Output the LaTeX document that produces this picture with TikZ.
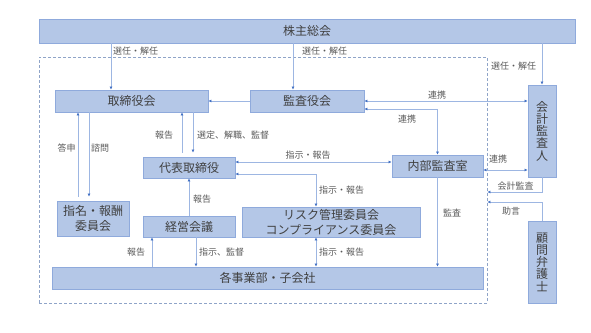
\documentclass[tikz,border=0pt]{standalone}
\usepackage{fontspec}
\setmainfont{Noto Sans CJK JP}
\usetikzlibrary{positioning,arrows.meta}
\definecolor{boxfill}{RGB}{180,199,231}
\definecolor{boxline}{RGB}{143,170,220}
\definecolor{linkblue}{RGB}{157,182,226}
\definecolor{tipblue}{RGB}{68,114,196}
\definecolor{framegray}{RGB}{143,164,200}
\definecolor{textgray}{RGB}{64,64,64}
\definecolor{lblgray}{RGB}{89,89,89}

\begin{document}
\begin{tikzpicture}[
  x=1pt, y=-1pt,
  box/.style={draw=boxline, fill=boxfill, line width=0.8pt, inner sep=0pt, align=center,
    text=textgray, font=\fontsize{12}{15}\selectfont},
  vbox/.style={box, font=\fontsize{12}{12.3}\selectfont},
  lbl/.style={inner sep=0pt, text=lblgray, font=\fontsize{9}{10}\selectfont},
  arr/.style={-{Latex[length=3pt,width=3pt,color=tipblue]}, draw=linkblue, line width=0.8pt},
  arrs/.style={{Latex[length=3pt,width=3pt,color=tipblue]}-{Latex[length=3pt,width=3pt,color=tipblue]}, draw=linkblue, line width=0.8pt},
]
\useasboundingbox (0,0) rectangle (591,332);

% Frame of the company
\node[draw=framegray, dashed, dash pattern=on 3pt off 2pt, line width=0.7pt,
  minimum width=448pt, minimum height=246pt] (frame) at (263,180) {};

% Boxes
\node[box, minimum width=536pt, minimum height=24pt] (gm) at (307,31) {株主総会};
\node[box, minimum width=153pt, minimum height=22pt] (board) at (131.5,101) {取締役会};
\node[box, minimum width=114pt, minimum height=22pt] (kansa) at (307,101) {監査役会};
\node[vbox, minimum width=28pt, minimum height=92pt] (auditor) at (542,131) {会\\計\\監\\査\\人};
\node[box, minimum width=72pt, minimum height=35pt] (nomination) at (93,218.5) {指名・報酬\\委員会};
\node[box, minimum width=92pt, minimum height=21pt] (ceo) at (189,167.5) {代表取締役};
\node[box, minimum width=91pt, minimum height=22pt] (internal) at (437.5,166) {内部監査室};
\node[box, minimum width=92pt, minimum height=21pt] (mgmt) at (189,226.5) {経営会議};
\node[box, minimum width=178pt, minimum height=30pt] (risk) at (331,222) {リスク管理委員会\\コンプライアンス委員会};
\node[box, minimum width=431pt, minimum height=22pt] (divisions) at (267.5,278) {各事業部・子会社};
\node[vbox, minimum width=28pt, minimum height=82pt] (lawyer) at (542,262) {顧\\問\\弁\\護\\士};

% Shareholders
\draw[arr] (111,0 |- gm.south) -- (111,0 |- board.north);
\draw[arr] (293,0 |- gm.south) -- (293,0 |- kansa.north);
\draw[arr] (auditor.north |- gm.south) -- (auditor.north);
\node[lbl, anchor=west] (l1) at (113,51) {選任・解任};
\node[lbl, anchor=west] (l2) at (302,51) {選任・解任};
\node[lbl, anchor=west] (l3) at (491,66) {選任・解任};

% Audit board
\draw[arr] (kansa.west) -- (board.east);
\draw[arrs] (kansa.east) -- (kansa.east -| auditor.west);
\draw[arrs] (kansa.east |- 0,109) -| (internal.north);
\node[lbl] (l4) at (437,95) {連携};
\node[lbl] (l5) at (407,119) {連携};

% Board and committees
\draw[arr, shorten <=4pt] (78,0 |- nomination.north) -- (78,0 |- board.south);
\draw[arr, shorten >=4pt] (89,0 |- board.south) -- (89,0 |- nomination.north);
\node[lbl] (l6) at (66.5,148) {答申};
\node[lbl] (l7) at (100,148) {諮問};
\draw[arr, shorten <=4pt] (182,0 |- ceo.north) -- (182,0 |- board.south);
\draw[arr, shorten >=4pt] (193,0 |- board.south) -- (193,0 |- ceo.north);
\node[lbl] (l8) at (164,135) {報告};
\node[lbl, anchor=west] (l9) at (197,135) {選定、解職、監督};

% Representative director
\draw[arrs] (ceo.east |- 0,162) -- (internal.west |- 0,162);
\node[lbl] (l10) at (308,155) {指示・報告};
\draw[arrs] (ceo.east |- 0,174) -| (316,0 |- risk.north);
\node[lbl, anchor=west] (l11) at (319,190) {指示・報告};
\draw[arr] (mgmt.north) -- (ceo.south);
\node[lbl, anchor=west] (l12) at (193,199) {報告};

% Accounting auditor and lawyer
\draw[arrs] (internal.east |- 0,170) -- (auditor.west |- 0,170);
\node[lbl, anchor=west] (l13) at (489,159) {連携};
\draw[arr] (auditor.south) |- (frame.east |- 0,192);
\node[lbl] (l14) at (515.5,186) {会計監査};
\draw[arr] (lawyer.north) |- (frame.east |- 0,202);
\node[lbl] (l15) at (511,211) {助言};

% Divisions
\draw[arr] (internal.south) -- (internal.south |- divisions.north);
\node[lbl, anchor=west] (l16) at (443,213) {監査};
\draw[arr] (152,0 |- divisions.north) -- (152,0 |- mgmt.south);
\draw[arr] (196,0 |- mgmt.south) -- (196,0 |- divisions.north);
\node[lbl] (l17) at (136,252) {報告};
\node[lbl, anchor=west] (l18) at (199,252) {指示、監督};
\draw[arrs] (316,0 |- risk.south) -- (316,0 |- divisions.north);
\node[lbl, anchor=west] (l19) at (319,252) {指示・報告};

\end{tikzpicture}
\end{document}
